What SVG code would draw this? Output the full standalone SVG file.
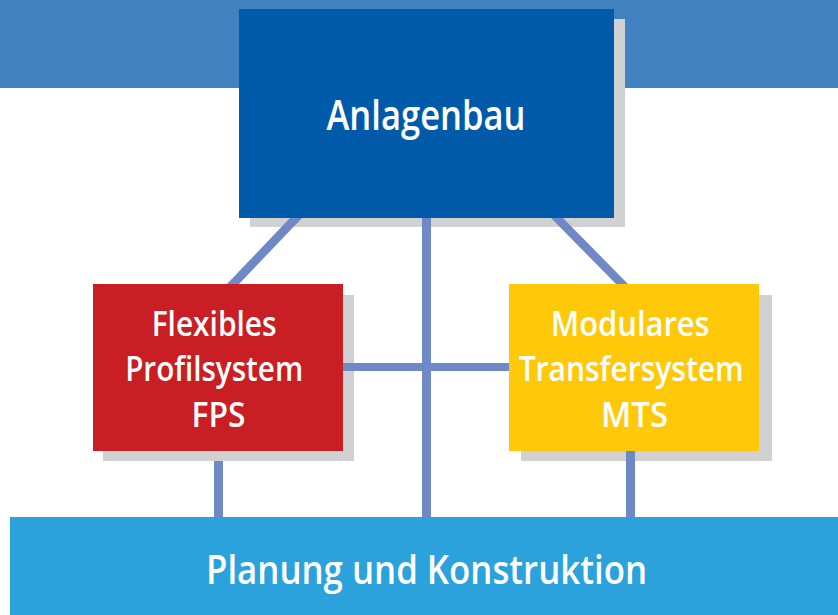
<svg xmlns="http://www.w3.org/2000/svg" width="838" height="615" viewBox="0 0 838 615">
<style>
.shadow{fill:#d0d1d3}
.lbl{font-family:"Open Sans","Noto Sans","Liberation Sans",sans-serif;font-weight:600;fill:#ffffff;text-anchor:middle}
.conn{fill:#6f88c6}
</style>
<rect x="0" y="0" width="838" height="88" fill="#4282c0"/>
<g id="node-anlagenbau">
<rect class="shadow" x="250" y="19" width="375" height="208"/>
<rect x="239" y="9" width="375" height="209" fill="#005aaa"/>
<text class="lbl" x="426" y="130" font-size="42" textLength="199" lengthAdjust="spacingAndGlyphs">Anlagenbau</text>
</g>
<g id="node-fps">
<rect class="shadow" x="103" y="295" width="251" height="166"/>
<rect x="93" y="284" width="250" height="167" fill="#c81e24"/>
<text class="lbl" font-size="33.5">
<tspan x="218.5" y="336" textLength="125" lengthAdjust="spacingAndGlyphs">Flexibles</tspan>
<tspan x="218.5" y="381" textLength="178" lengthAdjust="spacingAndGlyphs">Profilsystem</tspan>
<tspan x="218.5" y="427" textLength="54" lengthAdjust="spacingAndGlyphs">FPS</tspan>
</text>
</g>
<g id="node-mts">
<rect class="shadow" x="521" y="295" width="251" height="166"/>
<rect x="509" y="284" width="250" height="167" fill="#ffc90a"/>
<text class="lbl" font-size="33.5">
<tspan x="634.5" y="336" textLength="159" lengthAdjust="spacingAndGlyphs">Modulares</tspan>
<tspan x="635.5" y="381" textLength="225" lengthAdjust="spacingAndGlyphs">Transfersystem</tspan>
<tspan x="634.5" y="427" textLength="67" lengthAdjust="spacingAndGlyphs">MTS</tspan>
</text>
</g>
<g id="node-planung">
<rect x="10" y="517" width="828" height="98" fill="#2ba2db"/>
<text class="lbl" x="426.5" y="584" font-size="40.5" textLength="441" lengthAdjust="spacingAndGlyphs">Planung und Konstruktion</text>
</g>
<g id="connectors">
<polygon class="conn" points="290,218 302,218 239,284 227,284"/>
<polygon class="conn" points="551,218 563,218 628,284 616,284"/>
<rect class="conn" x="422" y="218" width="9" height="299"/>
<rect class="conn" x="343" y="363" width="166" height="8"/>
<rect class="conn" x="214" y="461" width="9" height="56"/>
<rect class="conn" x="626" y="451" width="9" height="66"/>
</g>
</svg>
